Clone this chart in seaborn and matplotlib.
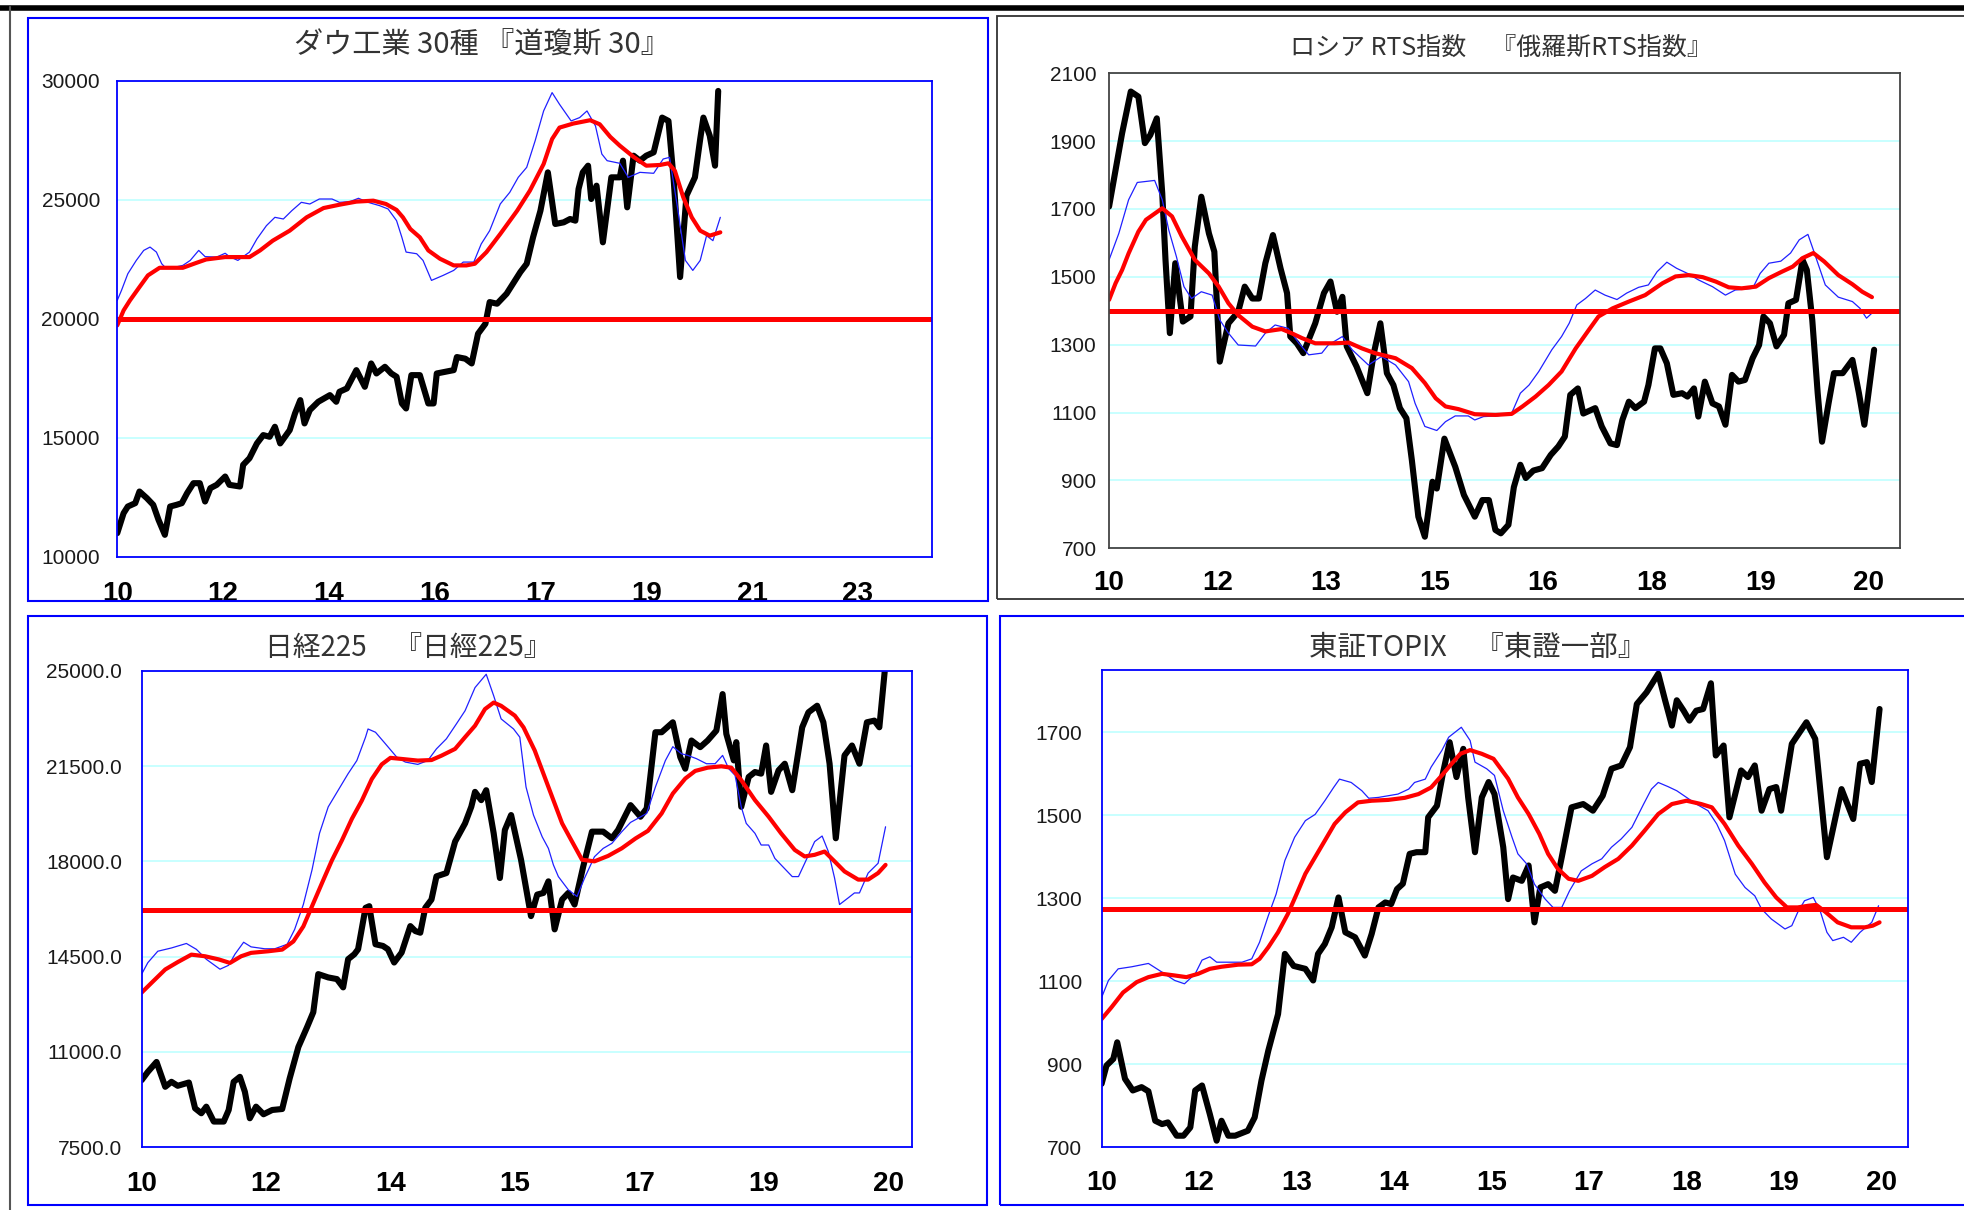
import matplotlib
matplotlib.use("Agg")
import matplotlib.pyplot as plt
import matplotlib.patches as patches
from matplotlib.lines import Line2D
import seaborn as sns
import pandas as pd

# x values are in label steps: 0 = first x label, 1 = second label, ...

# ---- Dow Jones 30 ----
dow_price = [(0.00, 11000), (0.06, 11840), (0.10, 12120), (0.17, 12260), (0.21, 12750), (0.28, 12470), (0.34, 12190),
             (0.39, 11560), (0.45, 10930), (0.50, 12120), (0.56, 12190), (0.61, 12260), (0.66, 12680), (0.72, 13100),
             (0.78, 13100), (0.83, 12330), (0.88, 12890), (0.94, 13030), (1.02, 13380), (1.06, 13030), (1.16, 12960),
             (1.19, 13870), (1.25, 14150), (1.32, 14770), (1.38, 15120), (1.44, 15050), (1.49, 15470), (1.54, 14770),
             (1.63, 15330), (1.68, 16030), (1.73, 16590), (1.77, 15610), (1.82, 16170), (1.90, 16520), (2.01, 16800),
             (2.07, 16520), (2.10, 16940), (2.17, 17080), (2.26, 17850), (2.34, 17150), (2.40, 18130), (2.45, 17710),
             (2.53, 17990), (2.59, 17710), (2.64, 17570), (2.69, 16450), (2.73, 16240), (2.78, 17640), (2.86, 17640),
             (2.94, 16450), (2.99, 16450), (3.02, 17710), (3.10, 17780), (3.18, 17850), (3.21, 18400), (3.29, 18330),
             (3.35, 18130), (3.41, 19380), (3.48, 19800), (3.52, 20710), (3.59, 20640), (3.68, 21060), (3.74, 21480),
             (3.81, 21970), (3.87, 22320), (3.93, 23430), (4.00, 24550), (4.07, 26160), (4.14, 23990), (4.22, 24060),
             (4.28, 24200), (4.33, 24130), (4.36, 25460), (4.40, 26160), (4.45, 26440), (4.48, 25040), (4.53, 25600),
             (4.59, 23220), (4.67, 25950), (4.75, 25950), (4.78, 26650), (4.82, 24690), (4.88, 26860), (4.94, 26650),
             (5.00, 26860), (5.07, 27000), (5.15, 28460), (5.21, 28320), (5.26, 25810), (5.32, 21760), (5.38, 25180),
             (5.46, 25950), (5.51, 27560), (5.54, 28460), (5.60, 27700), (5.65, 26440), (5.68, 29580)]
dow_ma13 = [(0.00, 20780), (0.04, 21200), (0.10, 21900), (0.18, 22460), (0.25, 22880), (0.31, 23020), (0.37, 22810),
            (0.42, 22320), (0.45, 22180), (0.55, 22180), (0.62, 22250), (0.69, 22460), (0.77, 22880), (0.83, 22620),
            (0.94, 22600), (1.02, 22760), (1.06, 22620), (1.14, 22460), (1.25, 22810), (1.32, 23360), (1.41, 23920),
            (1.49, 24270), (1.57, 24200), (1.65, 24550), (1.74, 24900), (1.82, 24830), (1.91, 25040), (2.03, 25040),
            (2.10, 24900), (2.20, 24930), (2.28, 25070), (2.37, 24900), (2.48, 24760), (2.56, 24620), (2.64, 24130),
            (2.69, 23430), (2.73, 22810), (2.83, 22740), (2.89, 22460), (2.97, 21620), (3.08, 21830), (3.18, 22040),
            (3.27, 22390), (3.37, 22390), (3.44, 23150), (3.52, 23710), (3.62, 24830), (3.71, 25320), (3.79, 25950),
            (3.87, 26370), (3.95, 27490), (4.03, 28740), (4.11, 29510), (4.18, 29020), (4.29, 28320), (4.37, 28460),
            (4.44, 28740), (4.52, 28110), (4.58, 26930), (4.63, 26650), (4.75, 26540), (4.83, 25950), (4.94, 26160),
            (5.07, 26120), (5.16, 26720), (5.22, 26790), (5.29, 24830), (5.37, 22460), (5.44, 22040), (5.51, 22460),
            (5.57, 23500), (5.63, 23290), (5.70, 24270)]
dow_ma26 = [(0.00, 19730), (0.06, 20360), (0.12, 20780), (0.21, 21340), (0.29, 21830), (0.40, 22150), (0.62, 22150),
            (0.75, 22360), (0.84, 22500), (1.02, 22600), (1.25, 22600), (1.35, 22880), (1.47, 23290), (1.63, 23710),
            (1.79, 24270), (1.95, 24660), (2.10, 24800), (2.26, 24930), (2.42, 24970), (2.54, 24830), (2.64, 24580),
            (2.70, 24270), (2.77, 23780), (2.86, 23430), (2.94, 22880), (3.05, 22530), (3.18, 22250), (3.30, 22250),
            (3.38, 22320), (3.49, 22810), (3.62, 23570), (3.78, 24550), (3.90, 25390), (4.03, 26510), (4.11, 27560),
            (4.18, 28040), (4.31, 28210), (4.47, 28350), (4.56, 28180), (4.66, 27650), (4.75, 27280), (4.88, 26810),
            (5.00, 26440), (5.13, 26470), (5.21, 26540), (5.27, 26230), (5.35, 25110), (5.43, 24270), (5.51, 23710),
            (5.60, 23500), (5.70, 23640)]
dow_level = 20000
dow_yticks = [10000, 15000, 20000, 25000, 30000]
dow_xlabels = ['10', '12', '14', '16', '17', '19', '21', '23']

# ---- Russia RTS ----
rts_price = [(0.00, 1707), (0.06, 1815), (0.12, 1923), (0.20, 2046), (0.27, 2031), (0.33, 1894), (0.38, 1918),
             (0.44, 1967), (0.49, 1746), (0.52, 1550), (0.56, 1334), (0.61, 1540), (0.68, 1368), (0.75, 1383),
             (0.79, 1589), (0.85, 1736), (0.92, 1628), (0.97, 1574), (1.02, 1250), (1.10, 1363), (1.19, 1397),
             (1.25, 1471), (1.32, 1436), (1.38, 1436), (1.44, 1540), (1.51, 1623), (1.58, 1525), (1.64, 1452),
             (1.67, 1324), (1.73, 1304), (1.79, 1275), (1.90, 1363), (1.98, 1452), (2.04, 1486), (2.10, 1397),
             (2.15, 1441), (2.19, 1295), (2.28, 1236), (2.38, 1157), (2.44, 1275), (2.50, 1363), (2.56, 1216),
             (2.62, 1181), (2.68, 1113), (2.74, 1083), (2.79, 960), (2.85, 793), (2.91, 734), (2.98, 896),
             (3.02, 876), (3.09, 1023), (3.19, 940), (3.27, 857), (3.37, 793), (3.44, 842), (3.50, 842),
             (3.56, 754), (3.61, 744), (3.68, 769), (3.73, 880), (3.79, 946), (3.84, 907), (3.91, 929),
             (3.99, 936), (4.07, 975), (4.14, 1000), (4.20, 1029), (4.25, 1152), (4.32, 1171), (4.37, 1097),
             (4.48, 1113), (4.54, 1059), (4.62, 1009), (4.68, 1004), (4.73, 1078), (4.79, 1132), (4.85, 1113),
             (4.93, 1132), (4.97, 1181), (5.03, 1289), (5.08, 1289), (5.14, 1245), (5.20, 1152), (5.28, 1157),
             (5.33, 1147), (5.39, 1171), (5.43, 1088), (5.49, 1191), (5.56, 1127), (5.62, 1118), (5.68, 1064),
             (5.74, 1211), (5.80, 1191), (5.86, 1196), (5.93, 1260), (5.99, 1299), (6.03, 1383), (6.09, 1363),
             (6.15, 1295), (6.22, 1329), (6.26, 1422), (6.33, 1432), (6.39, 1550), (6.43, 1520), (6.48, 1373),
             (6.53, 1157), (6.57, 1014), (6.63, 1127), (6.68, 1216), (6.76, 1216), (6.85, 1255), (6.91, 1157),
             (6.96, 1064), (7.05, 1285)]
rts_ma13 = [(0.00, 1550), (0.09, 1628), (0.18, 1727), (0.26, 1778), (0.42, 1784), (0.49, 1727), (0.55, 1638),
            (0.62, 1560), (0.69, 1471), (0.76, 1436), (0.85, 1456), (0.95, 1446), (1.02, 1373), (1.10, 1334),
            (1.19, 1299), (1.35, 1296), (1.44, 1334), (1.53, 1358), (1.65, 1348), (1.75, 1304), (1.84, 1270),
            (1.96, 1275), (2.02, 1299), (2.15, 1324), (2.24, 1285), (2.39, 1240), (2.51, 1265), (2.64, 1240),
            (2.76, 1191), (2.82, 1127), (2.91, 1059), (3.02, 1047), (3.10, 1073), (3.19, 1090), (3.31, 1090),
            (3.37, 1078), (3.45, 1088), (3.58, 1090), (3.71, 1098), (3.79, 1157), (3.87, 1181), (3.96, 1221),
            (4.08, 1285), (4.17, 1324), (4.24, 1363), (4.31, 1417), (4.39, 1436), (4.48, 1461), (4.57, 1446),
            (4.68, 1433), (4.77, 1452), (4.88, 1469), (4.97, 1476), (5.05, 1515), (5.14, 1543), (5.23, 1525),
            (5.33, 1510), (5.43, 1491), (5.56, 1471), (5.68, 1446), (5.77, 1461), (5.93, 1466), (6.00, 1510),
            (6.08, 1540), (6.19, 1546), (6.28, 1570), (6.36, 1609), (6.44, 1625), (6.49, 1579), (6.60, 1476),
            (6.72, 1440), (6.85, 1427), (6.92, 1407), (6.98, 1378), (7.03, 1393)]
rts_ma26 = [(0.00, 1432), (0.06, 1481), (0.12, 1520), (0.18, 1569), (0.27, 1633), (0.34, 1668), (0.49, 1702),
            (0.58, 1678), (0.67, 1619), (0.79, 1550), (0.92, 1510), (1.01, 1471), (1.10, 1422), (1.19, 1387),
            (1.32, 1353), (1.44, 1339), (1.59, 1346), (1.68, 1334), (1.78, 1319), (1.90, 1304), (2.08, 1304),
            (2.21, 1306), (2.33, 1289), (2.45, 1275), (2.64, 1260), (2.79, 1231), (2.91, 1187), (3.01, 1142),
            (3.10, 1118), (3.22, 1110), (3.37, 1095), (3.56, 1093), (3.71, 1096), (3.81, 1118), (3.93, 1147),
            (4.05, 1181), (4.17, 1221), (4.30, 1289), (4.42, 1343), (4.51, 1383), (4.64, 1407), (4.79, 1427),
            (4.94, 1446), (5.10, 1481), (5.22, 1501), (5.34, 1505), (5.47, 1499), (5.59, 1486), (5.71, 1469),
            (5.83, 1466), (5.96, 1471), (6.08, 1496), (6.20, 1515), (6.30, 1530), (6.39, 1555), (6.49, 1570),
            (6.59, 1545), (6.72, 1505), (6.85, 1478), (6.94, 1456), (7.03, 1440)]
rts_level = 1400
rts_yticks = [700, 900, 1100, 1300, 1500, 1700, 1900, 2100]
rts_xlabels = ['10', '12', '13', '15', '16', '18', '19', '20']

# ---- Nikkei 225 ----
nikkei_price = [(0.00, 9965), (0.05, 10270), (0.12, 10635), (0.19, 9722), (0.24, 9905), (0.29, 9759), (0.38, 9880),
                (0.43, 8932), (0.48, 8750), (0.52, 8993), (0.58, 8446), (0.66, 8446), (0.70, 8871), (0.74, 9905),
                (0.79, 10088), (0.83, 9540), (0.87, 8567), (0.92, 8993), (0.98, 8714), (1.05, 8871), (1.13, 8907),
                (1.19, 10027), (1.26, 11183), (1.33, 11913), (1.38, 12460), (1.42, 13860), (1.50, 13738),
                (1.57, 13677), (1.62, 13373), (1.66, 14407), (1.71, 14590), (1.74, 14772), (1.80, 16293),
                (1.83, 16354), (1.88, 14955), (1.94, 14894), (1.98, 14772), (2.03, 14285), (2.09, 14650),
                (2.16, 15623), (2.20, 15440), (2.24, 15380), (2.28, 16293), (2.33, 16597), (2.37, 17449),
                (2.45, 17570), (2.52, 18726), (2.60, 19395), (2.65, 20003), (2.68, 20551), (2.73, 20247),
                (2.77, 20612), (2.83, 19030), (2.88, 17388), (2.92, 19152), (2.97, 19700), (3.05, 18057),
                (3.13, 15989), (3.18, 16780), (3.23, 16840), (3.27, 17266), (3.32, 15502), (3.38, 16597),
                (3.43, 16840), (3.48, 16414), (3.55, 17814), (3.62, 19091), (3.71, 19091), (3.78, 18848),
                (3.83, 19152), (3.93, 20064), (4.01, 19639), (4.06, 19943), (4.13, 22741), (4.18, 22741),
                (4.27, 23106), (4.33, 21828), (4.37, 21402), (4.42, 22437), (4.49, 22193), (4.55, 22437),
                (4.62, 22802), (4.67, 24141), (4.70, 22680), (4.76, 21707), (4.78, 22376), (4.82, 20003),
                (4.88, 21098), (4.93, 21280), (4.98, 21220), (5.02, 22254), (5.06, 20551), (5.12, 21341),
                (5.17, 21585), (5.23, 20612), (5.31, 22923), (5.36, 23471), (5.43, 23714), (5.48, 23106),
                (5.53, 21585), (5.58, 18848), (5.65, 21889), (5.71, 22254), (5.77, 21585), (5.83, 23106),
                (5.89, 23167), (5.93, 22923), (5.98, 25300)]
nikkei_ma13 = [(0.00, 13855), (0.05, 14280), (0.13, 14700), (0.24, 14820), (0.36, 14985), (0.44, 14770),
               (0.52, 14405), (0.63, 14040), (0.70, 14185), (0.75, 14590), (0.82, 15030), (0.88, 14860),
               (0.99, 14790), (1.07, 14790), (1.17, 14955), (1.23, 15500), (1.30, 16415), (1.37, 17690),
               (1.43, 19030), (1.50, 20000), (1.58, 20610), (1.66, 21220), (1.73, 21700), (1.80, 22560),
               (1.82, 22860), (1.88, 22740), (1.96, 22315), (2.05, 21830), (2.12, 21645), (2.22, 21560),
               (2.30, 21700), (2.37, 22130), (2.45, 22500), (2.53, 23045), (2.60, 23530), (2.68, 24380),
               (2.77, 24870), (2.83, 24080), (2.89, 23230), (2.99, 22860), (3.04, 22560), (3.09, 20730),
               (3.15, 19700), (3.22, 18900), (3.27, 18475), (3.31, 17870), (3.35, 17440), (3.43, 16955),
               (3.50, 16710), (3.56, 17380), (3.64, 18170), (3.71, 18475), (3.78, 18660), (3.86, 19090),
               (3.93, 19430), (3.99, 19580), (4.06, 19760), (4.13, 20730), (4.21, 21700), (4.27, 22210),
               (4.34, 21950), (4.39, 21890), (4.46, 21770), (4.54, 21585), (4.61, 21585), (4.67, 21890),
               (4.72, 21400), (4.77, 21160), (4.82, 20000), (4.86, 19395), (4.93, 19030), (4.98, 18600),
               (5.04, 18600), (5.09, 18110), (5.14, 17870), (5.23, 17440), (5.28, 17440), (5.33, 17930),
               (5.41, 18725), (5.47, 18930), (5.52, 18360), (5.57, 17390), (5.61, 16415), (5.68, 16660),
               (5.73, 16840), (5.77, 16840), (5.84, 17570), (5.92, 17930), (5.98, 19270)]
nikkei_ma26 = [(0.00, 13180), (0.08, 13540), (0.19, 14030), (0.29, 14300), (0.40, 14575), (0.51, 14515),
               (0.62, 14400), (0.71, 14270), (0.80, 14515), (0.88, 14640), (1.02, 14700), (1.13, 14760),
               (1.22, 15060), (1.30, 15610), (1.38, 16460), (1.46, 17310), (1.53, 18040), (1.61, 18770),
               (1.69, 19560), (1.77, 20230), (1.85, 21020), (1.93, 21560), (2.00, 21800), (2.09, 21760),
               (2.22, 21700), (2.33, 21720), (2.41, 21880), (2.52, 22130), (2.60, 22560), (2.68, 22980),
               (2.76, 23590), (2.83, 23830), (2.89, 23710), (3.00, 23350), (3.07, 22920), (3.16, 22070),
               (3.27, 20730), (3.38, 19395), (3.46, 18725), (3.54, 18060), (3.64, 18000), (3.75, 18200),
               (3.86, 18480), (3.97, 18840), (4.07, 19120), (4.18, 19760), (4.27, 20490), (4.37, 21040),
               (4.45, 21320), (4.55, 21440), (4.66, 21490), (4.74, 21440), (4.82, 20980), (4.93, 20250),
               (5.04, 19640), (5.14, 19030), (5.25, 18420), (5.33, 18180), (5.41, 18240), (5.49, 18360),
               (5.57, 18000), (5.65, 17630), (5.76, 17330), (5.84, 17330), (5.92, 17570), (5.98, 17870)]
nikkei_level = 16200
nikkei_yticks = [7500, 11000, 14500, 18000, 21500, 25000]
nikkei_xlabels = ['10', '12', '14', '15', '17', '19', '20']

# ---- TOPIX ----
topix_price = [(0.00, 853), (0.05, 897), (0.12, 913), (0.16, 953), (0.24, 865), (0.32, 837), (0.41, 845),
               (0.48, 835), (0.55, 764), (0.62, 756), (0.68, 760), (0.77, 728), (0.84, 728), (0.91, 748),
               (0.96, 837), (1.03, 849), (1.11, 780), (1.18, 716), (1.23, 764), (1.30, 728), (1.37, 728),
               (1.50, 740), (1.57, 772), (1.64, 861), (1.71, 933), (1.81, 1021), (1.88, 1166), (1.97, 1137),
               (2.09, 1130), (2.17, 1102), (2.22, 1166), (2.29, 1190), (2.36, 1230), (2.43, 1302), (2.50, 1218),
               (2.60, 1206), (2.70, 1162), (2.77, 1214), (2.84, 1278), (2.91, 1290), (2.97, 1286), (3.03, 1322),
               (3.09, 1335), (3.16, 1407), (3.23, 1411), (3.32, 1411), (3.35, 1495), (3.44, 1523), (3.50, 1600),
               (3.57, 1676), (3.64, 1592), (3.71, 1660), (3.76, 1543), (3.83, 1411), (3.90, 1543), (3.97, 1580),
               (4.03, 1551), (4.12, 1423), (4.17, 1298), (4.22, 1350), (4.31, 1342), (4.38, 1379), (4.44, 1242),
               (4.50, 1326), (4.58, 1334), (4.65, 1318), (4.72, 1399), (4.82, 1519), (4.94, 1527), (5.04, 1511),
               (5.14, 1547), (5.23, 1612), (5.33, 1620), (5.42, 1664), (5.49, 1768), (5.59, 1796), (5.71, 1841),
               (5.78, 1777), (5.85, 1716), (5.90, 1777), (5.97, 1752), (6.03, 1728), (6.10, 1752), (6.17, 1756),
               (6.25, 1818), (6.30, 1644), (6.38, 1668), (6.44, 1495), (6.56, 1608), (6.63, 1592), (6.70, 1620),
               (6.77, 1511), (6.85, 1563), (6.92, 1568), (6.97, 1511), (7.08, 1672), (7.23, 1724), (7.32, 1684),
               (7.44, 1399), (7.59, 1563), (7.71, 1491), (7.78, 1624), (7.85, 1628), (7.90, 1580), (7.98, 1756)]
topix_ma13 = [(0.00, 1061), (0.07, 1102), (0.17, 1130), (0.31, 1135), (0.48, 1143), (0.62, 1122), (0.75, 1102),
              (0.85, 1094), (0.96, 1118), (1.03, 1151), (1.11, 1159), (1.18, 1146), (1.30, 1146), (1.44, 1146),
              (1.54, 1154), (1.62, 1194), (1.71, 1258), (1.79, 1310), (1.88, 1391), (1.98, 1447), (2.09, 1487),
              (2.19, 1502), (2.29, 1535), (2.38, 1567), (2.44, 1587), (2.56, 1579), (2.67, 1559), (2.74, 1541),
              (2.84, 1543), (2.94, 1547), (3.04, 1551), (3.15, 1563), (3.21, 1579), (3.32, 1587), (3.38, 1616),
              (3.49, 1656), (3.56, 1688), (3.69, 1712), (3.78, 1680), (3.83, 1628), (3.95, 1612), (4.03, 1596),
              (4.12, 1511), (4.21, 1447), (4.27, 1407), (4.36, 1383), (4.44, 1334), (4.55, 1298), (4.63, 1278),
              (4.72, 1278), (4.80, 1318), (4.92, 1366), (5.03, 1383), (5.13, 1395), (5.23, 1423), (5.33, 1443),
              (5.44, 1471), (5.56, 1527), (5.64, 1563), (5.71, 1579), (5.81, 1569), (5.90, 1559), (6.00, 1543),
              (6.10, 1527), (6.22, 1511), (6.31, 1479), (6.39, 1439), (6.50, 1358), (6.60, 1326), (6.70, 1306),
              (6.77, 1274), (6.87, 1250), (7.01, 1226), (7.08, 1234), (7.14, 1266), (7.21, 1294), (7.30, 1302),
              (7.37, 1270), (7.44, 1218), (7.50, 1198), (7.61, 1206), (7.69, 1194), (7.78, 1218), (7.90, 1242),
              (7.97, 1282)]
topix_ma26 = [(0.00, 1009), (0.10, 1037), (0.22, 1073), (0.36, 1098), (0.48, 1110), (0.62, 1118), (0.75, 1114),
              (0.87, 1110), (0.99, 1118), (1.11, 1130), (1.23, 1135), (1.40, 1140), (1.54, 1141), (1.62, 1154),
              (1.71, 1182), (1.81, 1218), (1.91, 1262), (2.00, 1310), (2.09, 1359), (2.19, 1399), (2.29, 1439),
              (2.39, 1479), (2.50, 1507), (2.63, 1531), (2.77, 1535), (2.94, 1537), (3.11, 1542), (3.25, 1551),
              (3.38, 1567), (3.49, 1596), (3.59, 1624), (3.68, 1648), (3.78, 1657), (3.90, 1648), (4.02, 1636),
              (4.12, 1604), (4.17, 1588), (4.27, 1543), (4.38, 1503), (4.49, 1455), (4.58, 1407), (4.68, 1371),
              (4.79, 1347), (4.89, 1342), (5.03, 1354), (5.16, 1375), (5.30, 1395), (5.44, 1427), (5.57, 1463),
              (5.71, 1503), (5.85, 1527), (6.00, 1535), (6.15, 1527), (6.26, 1519), (6.39, 1479), (6.53, 1427),
              (6.67, 1383), (6.80, 1338), (6.92, 1302), (7.03, 1278), (7.14, 1278), (7.25, 1282), (7.33, 1284),
              (7.42, 1268), (7.55, 1242), (7.69, 1230), (7.83, 1230), (7.91, 1234), (7.98, 1242)]
topix_level = 1275
topix_yticks = [700, 900, 1100, 1300, 1500, 1700]
topix_xlabels = ['10', '12', '13', '14', '15', '17', '18', '19', '20']

TITLE_FONT = ['Noto Sans CJK JP', 'DejaVu Sans']
NUM_FONT = ['Liberation Sans Narrow', 'Liberation Sans', 'DejaVu Sans']
BLUE = '#0000FF'
GRID = '#C4FFFF'


def to_frame(pairs):
    return pd.DataFrame(pairs, columns=['t', 'value'])


# Draws one index panel: price (black), short average (thin blue), long average (red) and the red level line
def draw_panel(ax, price, ma13, ma26, level, ylim, yticks, ylabels, xlabels, xmax,
               spine_color, xdir, ypad, xpad):
    sns.lineplot(data=to_frame(price), x='t', y='value', color='black', linewidth=4.4,
                 sort=False, estimator=None, ax=ax, zorder=3)
    sns.lineplot(data=to_frame(ma13), x='t', y='value', color='#2020FF', linewidth=0.9,
                 sort=False, estimator=None, ax=ax, zorder=4)
    sns.lineplot(data=to_frame(ma26), x='t', y='value', color='#FF0000', linewidth=3.0,
                 sort=False, estimator=None, ax=ax, zorder=5)
    ax.axhline(level, color='#FF0000', linewidth=3.6, zorder=6)

    ax.set_xlim(0, xmax)
    ax.set_ylim(*ylim)
    ax.set_xlabel('')
    ax.set_ylabel('')
    ax.set_yticks(yticks, labels=ylabels, fontsize=15, family=NUM_FONT, color='#1a1a1a')
    ax.set_xticks(range(len(xlabels)), labels=xlabels, fontsize=20, fontweight='bold',
                  family=NUM_FONT, color='black')
    ax.yaxis.grid(True, color=GRID, linewidth=1.3)
    ax.xaxis.grid(False)
    ax.set_axisbelow(True)
    for s in ax.spines.values():
        s.set_color(spine_color)
        s.set_linewidth(1.3)
        s.set_zorder(7)
    ax.tick_params(axis='y', direction='in', length=6, width=1.2, color=spine_color, pad=ypad)
    ax.tick_params(axis='x', direction=xdir, length=7, width=1.5, color=spine_color, pad=xpad)
    ax.set_facecolor('white')


sns.set_style('white')
fig = plt.figure(figsize=(19.64, 12.10), dpi=100)

# outer frames around each chart
fig.add_artist(patches.Rectangle((0.0141, 0.5033), 0.4890, 0.4822, transform=fig.transFigure,
                                 fill=False, edgecolor=BLUE, linewidth=1.5))
fig.add_artist(patches.Rectangle((0.0141, 0.0045), 0.4885, 0.4864, transform=fig.transFigure,
                                 fill=False, edgecolor=BLUE, linewidth=1.5))
fig.add_artist(patches.Rectangle((0.5092, 0.0045), 0.4950, 0.4864, transform=fig.transFigure,
                                 fill=False, edgecolor=BLUE, linewidth=1.5))
fig.add_artist(patches.Rectangle((0.5076, 0.5050), 0.4960, 0.4814, transform=fig.transFigure,
                                 fill=False, edgecolor='#333333', linewidth=1.3))
fig.add_artist(Line2D([0, 1], [0.9937, 0.9937], transform=fig.transFigure, color='black', linewidth=4))
fig.add_artist(Line2D([0.0051, 0.0051], [0, 0.994], transform=fig.transFigure, color='#555555', linewidth=1.5))

ax1 = fig.add_axes([0.0597, 0.5397, 0.4148, 0.3934])
draw_panel(ax1, dow_price, dow_ma13, dow_ma26, dow_level, (10000, 30000), dow_yticks,
           [str(v) for v in dow_yticks], dow_xlabels, 7.70, BLUE, 'out', 12.5, 10)

ax2 = fig.add_axes([0.5647, 0.5469, 0.4028, 0.3926])
draw_panel(ax2, rts_price, rts_ma13, rts_ma26, rts_level, (700, 2100), rts_yticks,
           [str(v) for v in rts_yticks], rts_xlabels, 7.29, '#444444', 'in', 9, 16)

ax3 = fig.add_axes([0.0721, 0.0518, 0.3921, 0.3939])
draw_panel(ax3, nikkei_price, nikkei_ma13, nikkei_ma26, nikkei_level, (7500, 25000), nikkei_yticks,
           ['%.1f' % v for v in nikkei_yticks], nikkei_xlabels, 6.19, BLUE, 'out', 14, 10)

ax4 = fig.add_axes([0.5609, 0.0518, 0.4105, 0.3945])
draw_panel(ax4, topix_price, topix_ma13, topix_ma26, topix_level, (700, 1850), topix_yticks,
           [str(v) for v in topix_yticks], topix_xlabels, 8.27, BLUE, 'in', 14, 16)

fig.text(0.2454, 0.962, 'ダウ工業 30種 『道瓊斯 30』', ha='center', va='center', fontsize=21,
         family=TITLE_FONT, color='#333333')
fig.text(0.7640, 0.9603, 'ロシア RTS指数　『俄羅斯RTS指数』', ha='center', va='center', fontsize=18,
         family=TITLE_FONT, color='#333333')
fig.text(0.2080, 0.4645, '日経225　『日經225』', ha='center', va='center', fontsize=20,
         family=TITLE_FONT, color='#333333')
fig.text(0.7522, 0.4645, '東証TOPIX　『東證一部』', ha='center', va='center', fontsize=20.5,
         family=TITLE_FONT, color='#333333')

fig.savefig('out.png', dpi=100, facecolor='white')
